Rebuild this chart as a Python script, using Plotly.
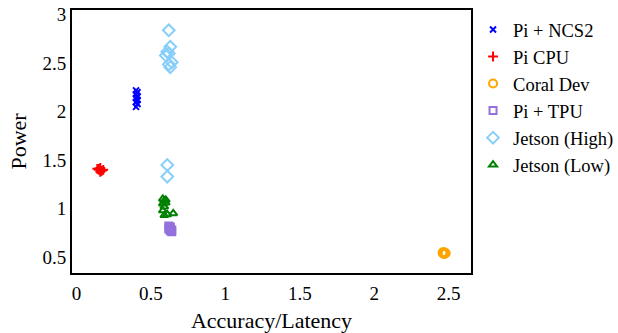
import plotly.graph_objects as go

# Data
ncs2_x = [0.40, 0.41, 0.40, 0.41, 0.40, 0.41, 0.40, 0.41, 0.40]
ncs2_y = [2.05, 2.08, 2.10, 2.12, 2.14, 2.16, 2.18, 2.20, 2.22]

cpu_x = [0.14, 0.15, 0.16, 0.17, 0.18, 0.16, 0.15]
cpu_y = [1.41, 1.40, 1.42, 1.39, 1.40, 1.38, 1.41]

coral_x = [2.46, 2.47, 2.48, 2.47, 2.46]
coral_y = [0.54, 0.55, 0.54, 0.53, 0.55]

tpu_x = [0.62, 0.63, 0.64, 0.62, 0.63, 0.64, 0.63]
tpu_y = [0.82, 0.80, 0.78, 0.79, 0.77, 0.76, 0.81]

jh_x = [0.62, 0.63, 0.62, 0.61, 0.60, 0.64, 0.62, 0.63, 0.61, 0.61]
jh_y = [2.84, 2.67, 2.60, 2.62, 2.58, 2.51, 2.49, 2.46, 1.45, 1.33]

jl_x = [0.58, 0.59, 0.60, 0.58, 0.59, 0.60, 0.58, 0.61, 0.59, 0.65]
jl_y = [1.10, 1.08, 1.09, 1.05, 1.02, 1.06, 0.98, 0.94, 0.93, 0.95]

series = [
    ("Pi + NCS2", ncs2_x, ncs2_y, "x-thin", "#0000ff", 6),
    ("Pi CPU", cpu_x, cpu_y, "cross-thin", "#ff0000", 7),
    ("Coral Dev", coral_x, coral_y, "circle-open", "#ffa500", 8),
    ("Pi + TPU", tpu_x, tpu_y, "square-open", "#9370db", 7),
    ("Jetson (High)", jh_x, jh_y, "diamond-open", "#87cefa", 9),
    ("Jetson (Low)", jl_x, jl_y, "triangle-up-open", "#008000", 7),
]

fig = go.Figure()
for name, xs, ys, sym, col, sz in series:
    fig.add_trace(go.Scatter(
        x=xs, y=ys, mode="markers", name=name,
        marker=dict(symbol=sym, color=col, size=sz, line=dict(color=col, width=2)),
    ))

font = "Liberation Serif"
fig.update_layout(
    width=618, height=333,
    margin=dict(l=72, r=0, t=0, b=60, autoexpand=False),
    paper_bgcolor="white", plot_bgcolor="white",
    font=dict(family=font, size=19, color="black"),
    showlegend=True,
    legend=dict(x=0.7345, y=0.96, xanchor="left", yanchor="top",
                font=dict(family=font, size=18.5), itemsizing="trace",
                tracegroupgap=0, bgcolor="rgba(0,0,0,0)"),
    xaxis=dict(domain=[0, 0.7308], range=[-0.03, 2.65],
               tickvals=[0, 0.5, 1, 1.5, 2, 2.5],
               ticktext=["0", "0.5", "1", "1.5", "2", "2.5"],
               tickfont=dict(family=font, size=19),
               showgrid=False, zeroline=False, showline=True, linecolor="black",
               linewidth=2, mirror=True, ticks="outside", ticklen=2,
               tickcolor="rgba(0,0,0,0)",
               title=dict(text="Accuracy/Latency", font=dict(family=font, size=22), standoff=12)),
    yaxis=dict(domain=[0, 0.9634], range=[0.335, 3.05],
               tickvals=[0.5, 1, 1.5, 2, 2.5, 3],
               ticktext=["0.5", "1", "1.5", "2", "2.5", "3"],
               tickfont=dict(family=font, size=19),
               showgrid=False, zeroline=False, showline=True, linecolor="black",
               linewidth=2, mirror=True, ticks="",
               title=dict(text="Power", font=dict(family=font, size=22), standoff=10)),
)
fig.write_html("out.html")
